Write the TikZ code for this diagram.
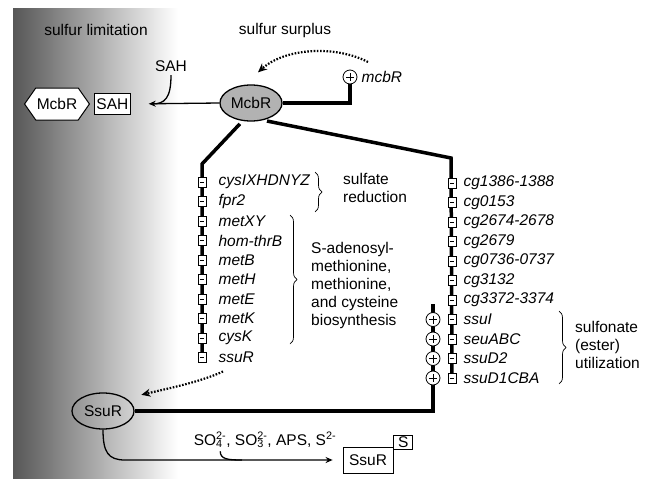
\documentclass[tikz,border=0pt]{standalone}
\usepackage{fontspec}
\setmainfont{Liberation Sans}
\usetikzlibrary{shapes.geometric, shapes.symbols, arrows.meta, positioning, decorations.pathreplacing, backgrounds}
\newcommand{\diagfont}{\fontsize{15.5}{18}\selectfont}
\tikzset{
    regulator/.style = {ellipse, draw=black, line width=1.3pt, minimum width=62pt, minimum height=36pt, inner sep=0pt, text centered},
    complex/.style = {signal, signal to=west and east, signal pointer angle=110, draw=black, line width=1pt, fill=white, minimum width=52pt, minimum height=32pt, inner sep=1pt},
    tagbox/.style = {rectangle, draw=black, line width=0.8pt, fill=white, inner sep=2pt},
    repbox/.style = {rectangle, draw=black, line width=0.8pt, fill=white, minimum width=8pt, minimum height=10pt, inner sep=0pt,
        path picture={\draw[line width=1pt] ([xshift=2pt]path picture bounding box.west) -- ([xshift=-2pt]path picture bounding box.east);}},
    actbox/.style = {circle, draw=black, line width=0.8pt, fill=white, minimum size=14pt, inner sep=0pt,
        path picture={\draw[line width=1pt] ([xshift=3pt]path picture bounding box.west) -- ([xshift=-3pt]path picture bounding box.east)
            ([yshift=-3pt]path picture bounding box.north) -- ([yshift=3pt]path picture bounding box.south);}},
    gene/.style = {font=\diagfont\itshape, inner sep=1pt},
    note/.style = {align=left, inner sep=1pt},
    regline/.style = {line width=3.5pt},
    arrow/.style = {line width=1.3pt, -{Stealth[length=7pt, width=6pt]}},
    signal line/.style = {line width=1.3pt},
    feedback/.style = {line width=2.2pt, dash pattern=on 1.6pt off 1.6pt, -{Stealth[length=9pt, width=8pt]}},
    groupbrace/.style = {decorate, decoration={brace, amplitude=7pt}, line width=0.7pt}
}

\begin{document}
\begin{tikzpicture}[x=1pt, y=-1pt, font=\diagfont, node distance=19.5pt]
\useasboundingbox (0,0) rectangle (649,479);

% sulfur limitation side
\begin{scope}[on background layer]
\shade[left color=black!66, middle color=black!40, right color=white] (13,8) rectangle (178,479);
\end{scope}

\node (limit) at (96,30) {sulfur limitation};
\node (surplus) at (285,30) {sulfur surplus};

% regulators
\node (mcbr) [regulator, fill=black!30] at (251,103) {McbR};
\node (ssur) [regulator] at (103,411) {SsuR};
\node (mcbRp) [actbox] at (350,77) {};
\node (mcbRg) [gene, right=3pt of mcbRp] {mcbR};

\node (hex) [complex] at (57,104) {McbR};
\node (sahbox) [tagbox, right=4pt of hex, minimum width=33pt, minimum height=21pt] {SAH};
\node (sah) at (171,66) {SAH};

% McbR regulon, left column
\node (cysIbox) [repbox] at (202,182) {};
\node (fprbox) [repbox, below of=cysIbox] {};
\node (metXYbox) [repbox, below of=fprbox] {};
\node (homthrbox) [repbox, below of=metXYbox] {};
\node (metBbox) [repbox, below of=homthrbox] {};
\node (metHbox) [repbox, below of=metBbox] {};
\node (metEbox) [repbox, below of=metHbox] {};
\node (metKbox) [repbox, below of=metEbox] {};
\node (cysKbox) [repbox, below of=metKbox] {};
\node (ssuRbox) [repbox, below of=cysKbox] {};

\node (cysI) [gene, right=11pt of cysIbox] {cysIXHDNYZ};
\node (fpr) [gene, right=11pt of fprbox] {fpr2};
\node (metXY) [gene, right=11pt of metXYbox] {metXY};
\node (homthr) [gene, right=11pt of homthrbox] {hom-thrB};
\node (metB) [gene, right=11pt of metBbox] {metB};
\node (metH) [gene, right=11pt of metHbox] {metH};
\node (metE) [gene, right=11pt of metEbox] {metE};
\node (metK) [gene, right=11pt of metKbox] {metK};
\node (cysK) [gene, right=11pt of cysKbox] {cysK};
\node (ssuRg) [gene, right=11pt of ssuRbox] {ssuR};

% McbR regulon, right column
\node (cg1386box) [repbox] at (452,183) {};
\node (cg0153box) [repbox, below of=cg1386box] {};
\node (cg2674box) [repbox, below of=cg0153box] {};
\node (cg2679box) [repbox, below of=cg2674box] {};
\node (cg0736box) [repbox, below of=cg2679box] {};
\node (cg3132box) [repbox, below of=cg0736box] {};
\node (cg3372box) [repbox, below of=cg3132box] {};
\node (ssuIbox) [repbox, below of=cg3372box] {};
\node (seuAbox) [repbox, below of=ssuIbox] {};
\node (ssuD2box) [repbox, below of=seuAbox] {};
\node (ssuD1box) [repbox, below of=ssuD2box] {};

\node (cg1386) [gene, right=6pt of cg1386box] {cg1386-1388};
\node (cg0153) [gene, right=6pt of cg0153box] {cg0153};
\node (cg2674) [gene, right=6pt of cg2674box] {cg2674-2678};
\node (cg2679) [gene, right=6pt of cg2679box] {cg2679};
\node (cg0736) [gene, right=6pt of cg0736box] {cg0736-0737};
\node (cg3132) [gene, right=6pt of cg3132box] {cg3132};
\node (cg3372) [gene, right=6pt of cg3372box] {cg3372-3374};
\node (ssuI) [gene, right=6pt of ssuIbox] {ssuI};
\node (seuA) [gene, right=6pt of seuAbox] {seuABC};
\node (ssuD2) [gene, right=6pt of ssuD2box] {ssuD2};
\node (ssuD1) [gene, right=6pt of ssuD1box] {ssuD1CBA};

% SsuR activation
\node (ssuIp) [actbox, left of=ssuIbox, node distance=19pt] {};
\node (seuAp) [actbox, left of=seuAbox, node distance=19pt] {};
\node (ssuD2p) [actbox, left of=ssuD2box, node distance=19pt] {};
\node (ssuD1p) [actbox, left of=ssuD1box, node distance=19pt] {};

% groups
\node (sulfred) [note, anchor=west] at (342,188) {sulfate\\reduction};
\node (samsyn) [note, anchor=west] at (310,285) {S-adenosyl-\\methionine,\\methionine,\\and cysteine\\biosynthesis};
\node (sulfon) [note, anchor=west] at (574,345) {sulfonate\\(ester)\\utilization};
\draw[groupbrace] (315,172) -- (315,212);
\draw[groupbrace] (290,215) -- (290,344);
\draw[groupbrace] (559,311) -- (559,384);

% sulfur sources
\node (ssubox) [tagbox, minimum width=50pt, minimum height=26pt] at (368,460) {SsuR};
\node (sbox) [tagbox, minimum width=19pt, minimum height=14pt, inner sep=0pt, anchor=south west] at ([yshift=-3pt]ssubox.north east) {S};
\node (sources) at (265,440) {SO\rlap{\textsubscript{4}}\textsuperscript{2-}, SO\rlap{\textsubscript{3}}\textsuperscript{2-}, APS, S\textsuperscript{2-}};

\coordinate (lbend) at (202,164);
\coordinate (rbend) at (451,158);
\coordinate (ptop) at (433,304);
\coordinate (pcorner) at (433,411);
\coordinate (sahjoin) at (152,104);
\coordinate (sturn) at (125,460);
\coordinate (hookstart) at ([xshift=30pt]sources.south west);
\coordinate (hookend) at (242,460);
\coordinate (mcbRout) at ([shift={(18pt,15pt)}]mcbRp.center);
\coordinate (mcbRin) at ([shift={(7pt,12pt)}]mcbr.north);
\coordinate (ssuRout) at ([shift={(21pt,-14pt)}]ssuRbox.center);
\coordinate (ssuRin) at ([shift={(16pt,3pt)}]ssur.north east);

\begin{scope}[on background layer]
\draw[regline, shorten <=4pt] (mcbr.-115) -- (lbend) -- (ssuRbox.center);
\draw[regline, shorten <=4pt] (mcbr.-55) -- (rbend) -- (ssuD1box.center);
\draw[regline] (ptop) -- (pcorner) -- (ssur.east);
\draw[regline] (mcbr.east) -| (mcbRp.center);
\end{scope}

\draw[arrow, shorten >=18pt] (mcbr.west) -- (sahbox.east);
\draw[signal line] (sah.south) .. controls (171,98) and (165,104) .. (sahjoin);
\draw[feedback] (mcbRout) .. controls (335,45) and (285,48) .. (mcbRin);
\draw[feedback] (ssuRout) .. controls (200,382) and (170,388) .. (ssuRin);
\draw[arrow, shorten >=10pt] (ssur.south) .. controls (103,452) and (108,460) .. (sturn) -- (ssubox.west);
\draw[signal line] (hookstart) .. controls ([yshift=-8pt]hookstart) and (228,460) .. (hookend);
\end{tikzpicture}
\end{document}
